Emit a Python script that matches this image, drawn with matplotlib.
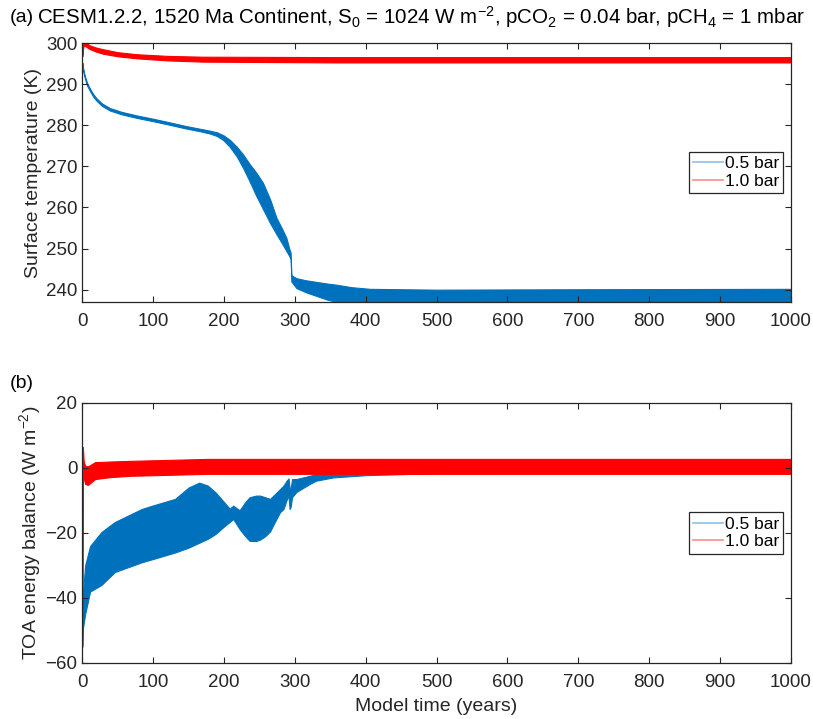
#! /usr/bin/env python3
import numpy as np
import matplotlib
matplotlib.use('Agg')
import matplotlib.pyplot as plt
from matplotlib.lines import Line2D

plt.rcParams['font.family'] = ['Liberation Sans', 'DejaVu Sans']
plt.rcParams['mathtext.default'] = 'regular'

# (a) surface temperature envelopes (K)
ta_blue = [0, 1, 2, 4, 7, 11, 15, 20, 28, 39, 55, 77, 100, 124, 147, 165, 180, 190, 199, 208,
           218, 227, 236, 245, 255, 265, 274, 282, 288, 292, 294, 295, 302, 315, 330, 345,
           359, 380, 406, 500, 700, 1000]
Ta_blue_lo = [294.8, 293.6, 292.6, 291.2, 289.6, 288.3, 287.1, 286.0, 284.7, 283.6, 282.7, 281.8,
              281.0, 280.1, 279.2, 278.6, 278.0, 277.4, 276.4, 274.8, 272.4, 269.6, 266.4, 263.0,
              259.6, 256.2, 253.5, 251.2, 249.4, 248.2, 247.6, 242.0, 240.4, 239.4, 238.5, 237.6,
              237.0, 236.8, 236.8, 236.8, 236.8, 236.8]
Ta_blue_hi = [295.3, 294.1, 293.1, 291.8, 290.2, 288.9, 287.7, 286.6, 285.3, 284.2, 283.3, 282.4,
              281.6, 280.7, 279.8, 279.2, 278.7, 278.3, 277.6, 276.5, 274.8, 272.9, 270.6, 268.6,
              266.0, 262.0, 257.5, 254.8, 252.6, 250.0, 249.0, 243.5, 242.8, 242.3, 241.9, 241.5,
              241.2, 240.6, 240.2, 240.0, 240.1, 240.2]

ta_red = [0, 1, 2, 5, 10, 20, 30, 50, 77, 120, 170, 360, 1000]
Ta_red_lo = [296.8, 298.5, 299.4, 299.2, 298.6, 297.9, 297.4, 296.8, 296.3, 295.8, 295.5, 295.3, 295.3]
Ta_red_hi = [297.3, 299.5, 300.4, 300.2, 299.5, 298.9, 298.5, 297.8, 297.3, 296.9, 296.7, 296.6, 296.6]

# (b) TOA energy balance envelopes (W m-2)
tb_blue = [0, 0.5, 4, 11, 27, 46, 84, 100, 131, 150, 165, 177, 188, 200, 208, 213, 222, 230, 236,
           245, 251, 258, 265, 272, 279, 284, 288, 291, 292.5, 294, 296, 302, 321, 330, 354,
           401, 500, 700, 1000]
Fb_blue_lo = [-55, -50, -45, -38, -36, -32, -29, -28, -26, -24.5, -23, -21.8, -20.3, -18, -16.6,
              -15.7, -18.8, -21, -22.4, -22.5, -22, -21, -19.5, -16.5, -13.6, -12.6, -10, -8.5,
              -12.6, -12, -9, -7.4, -4.9, -3.9, -2.9, -2.2, -1.6, -1.4, -1.4]
Fb_blue_hi = [-54, -40, -30, -24, -19.7, -16.6, -12.6, -11.5, -9.5, -6, -4.5, -5.4, -7.5, -10.5,
              -12.5, -11.6, -13, -10.5, -9, -8.5, -8.5, -9, -9.5, -8, -6.5, -5.4, -4, -3.2, -6,
              -6.5, -3.4, -3.4, -2.4, -1.8, -1.3, -0.8, -0.3, 0, 0]

tb_red = [0, 0.3, 0.8, 2, 4, 8, 18, 40, 68, 177, 400, 1000]
Fb_red_lo = [-50, -5, 3.5, -3, -4.9, -5.2, -3.4, -2.8, -2.4, -1.8, -1.8, -1.8]
Fb_red_hi = [-45, 0, 6.4, 2, 0.7, 0.5, 1.8, 2.0, 2.2, 2.8, 2.8, 2.8]

labels = ['0.5 bar', '1.0 bar']
xticks = np.arange(0, 1001, 100)

blue = '#0072BD'
red = '#FF0000'
axcol = '#262626'

fig = plt.figure(figsize=(8.13, 7.19), dpi=100)
ax1 = fig.add_axes([0.1012, 0.580, 0.8717, 0.360])
ax2 = fig.add_axes([0.1012, 0.0779, 0.8717, 0.3616])


def style(ax):
    ax.set_xlim(0, 1000)
    ax.set_xticks(xticks)
    ax.tick_params(direction='in', top=True, right=True, length=4, width=0.8,
                   colors=axcol, labelcolor=axcol, labelsize=13.5)
    ax.tick_params(axis='x', pad=8)
    ax.tick_params(axis='y', pad=3.5)
    for s in ax.spines.values():
        s.set_color(axcol)
        s.set_linewidth(0.9)
    handles = [Line2D([], [], color=blue, lw=1.2, alpha=0.45),
               Line2D([], [], color=red, lw=1.2, alpha=0.45)]
    leg = ax.legend(handles, labels, loc='center right', bbox_to_anchor=(0.989, 0.5),
                    borderaxespad=0, fontsize=12.5, handlelength=1.7, handletextpad=0.1,
                    borderpad=0.25, labelspacing=0.15, fancybox=False, framealpha=1)
    leg.get_frame().set_edgecolor(axcol)
    leg.get_frame().set_linewidth(0.9)


ax1.fill_between(ta_blue, Ta_blue_lo, Ta_blue_hi, color=blue, lw=0.8)
ax1.fill_between(ta_red, Ta_red_lo, Ta_red_hi, color=red, lw=0.8)
ax1.set_ylim(237.0, 300)
ax1.set_yticks(np.arange(240, 301, 10))
ax1.set_ylabel('Surface temperature (K)', fontsize=14, color=axcol, labelpad=3)
style(ax1)

ax2.fill_between(tb_blue, Fb_blue_lo, Fb_blue_hi, color=blue, lw=0.8)
ax2.fill_between(tb_red, Fb_red_lo, Fb_red_hi, color=red, lw=0.8)
ax2.set_ylim(-60, 20)
ax2.set_yticks(np.arange(-60, 21, 20))
ax2.set_ylabel('TOA energy balance (W m$^{-2}$)', fontsize=14, color=axcol, labelpad=2)
ax2.set_xlabel('Model time (years)', fontsize=14, color=axcol, labelpad=5)
style(ax2)

fig.text(10 / 813, 1 - 17 / 719, '(a)', fontsize=14, va='center', ha='left')
fig.text(37 / 813, 1 - 17 / 719,
         'CESM1.2.2, 1520 Ma Continent, S$_0$ = 1024 W m$^{-2}$, pCO$_2$ = 0.04 bar, pCH$_4$ = 1 mbar',
         fontsize=14.8, va='center', ha='left')
fig.text(10 / 813, 1 - 384 / 719, '(b)', fontsize=14, va='center', ha='left')

fig.savefig('out.png', dpi=100)
